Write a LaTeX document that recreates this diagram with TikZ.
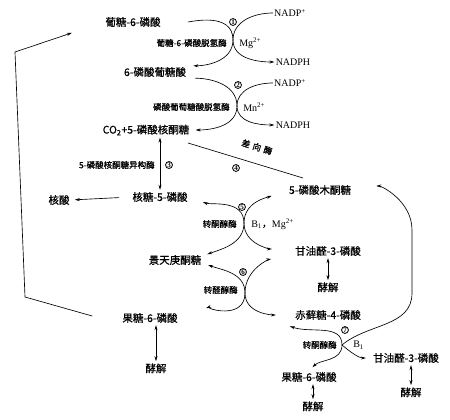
\documentclass[tikz,border=0pt]{standalone}
\usepackage{fontspec}
\setmainfont{Liberation Serif}
\newfontfamily\cjk[FakeBold=0.6]{Noto Sans CJK SC}
\usetikzlibrary{arrows.meta,positioning}

\begin{document}
\begin{tikzpicture}[x=1pt, y=1pt, >={Stealth[length=5pt,width=3pt]}, line width=0.65pt,
    met/.style={font=\cjk\fontsize{10.5}{12}\selectfont, inner sep=1pt},
    enz/.style={font=\cjk\fontsize{8.5}{10}\selectfont, inner sep=1pt},
    ion/.style={font=\fontsize{10}{12}\selectfont, inner sep=1pt},
    num/.style={circle, draw, inner sep=0.4pt, line width=0.8pt, font=\bfseries\fontsize{7}{7}\selectfont}]
  \useasboundingbox (0,0) rectangle (450,420);

  % metabolites
  \node[met] (g6p) at (133,398) {葡糖-6-磷酸};
  \node[met] (pg6) at (155,348) {6-磷酸葡糖酸};
  \node[met] (ru5p) at (146,290) {CO\textsubscript{2}+5-磷酸核酮糖};
  \node[met] (r5p) at (160,223) {核糖-5-磷酸};
  \node[met] (na) at (59,220) {核酸};
  \node[met] (x5p) at (320,230) {5-磷酸木酮糖};
  \node[met] (s7p) at (175,160) {景天庚酮糖};
  \node[met] (gap1) at (328,169) {甘油醛-3-磷酸};
  \node[met] (f6p1) at (150,102) {果糖-6-磷酸};
  \node[met] (e4p) at (328,105) {赤藓糖-4-磷酸};
  \node[met] (gap2) at (406,62) {甘油醛-3-磷酸};
  \node[met] (f6p2) at (309,43) {果糖-6-磷酸};
  \node[met] (jj1) [below=24pt of gap1] {酵解};
  \node[met] (jj2) [below=38pt of f6p1, xshift=6pt] {酵解};
  \node[met] (jj3) [below=22pt of gap2, xshift=5pt] {酵解};
  \node[met] (jj4) [below=17pt of f6p2, xshift=4pt] {酵解};

  \node[ion] (nadp1) at (290,407) {NADP\textsuperscript{+}};
  \node[ion] (nadph1) at (293,358) {NADPH};
  \node[ion] (nadp2) at (290,337) {NADP\textsuperscript{+}};
  \node[ion] (nadph2) at (293,295) {NADPH};

  % enzymes and cofactors
  \node[enz, anchor=east] (enz1) at (228,377) {葡糖-6-磷酸脱氢酶};
  \node[ion, anchor=west] (mg1) at (238,377) {Mg\textsuperscript{2+}};
  \node[num] (n1) at (233,398) {1};
  \node[enz, anchor=east] (enz2) at (231,313) {磷酸葡萄糖酸脱氢酶};
  \node[ion, anchor=west] (mn2) at (242,313) {Mn\textsuperscript{2+}};
  \node[num] (n2) at (238,335) {2};
  \node[enz, anchor=east] (enz3) at (156,255) {5-磷酸核酮糖异构酶};
  \node[num] (n3) at (169,255) {3};
  \node[enz, rotate=-17] (enz4) at (257,273) {差\hspace{3pt}向\hspace{3pt}酶};
  \node[num] (n4) at (236,252) {4};
  \node[enz, anchor=east] (enz5) at (238,196) {转酮醇酶};
  \node[ion, anchor=west] (bm5) at (250,196) {B\textsubscript{1}{\cjk ，}Mg\textsuperscript{2+}};
  \node[num] (n5) at (242,213) {5};
  \node[enz, anchor=east] (enz6) at (239,130) {转醛醇酶};
  \node[num] (n6) at (243,148) {6};
  \node[enz, anchor=east] (enz7) at (338,75) {转酮醇酶};
  \node[ion, anchor=west] (b7) at (352,75) {B\textsubscript{1}};
  \node[num] (n7) at (345,90) {7};

  % crossing points
  \coordinate (x1) at (233,380);
  \coordinate (x2) at (237,314);
  \coordinate (x5) at (244,197);
  \coordinate (x6) at (245,127);
  \coordinate (x7) at (342,75);
  \coordinate (ea) at (188,277);
  \coordinate (eb) at (303,242);
  \coordinate (r1) at (412,190);
  \coordinate (r2) at (412,127);
  \coordinate (lb) at (25,123);
  \coordinate (lt) at (15,368);

  % oxidative part
  \draw[->, shorten <=26pt, shorten >=6pt] (g6p.east) to[out=0,in=90] (x1) to[out=-90,in=0] (pg6.north east);
  \draw[->] (nadp1.west) to[out=180,in=90] (x1) to[out=-90,in=180] (nadph1.west);
  \draw[->, shorten <=8pt, shorten >=5pt] (pg6.south east) to[out=0,in=90] (x2) to[out=-90,in=0] (ru5p.east);
  \draw[->] (nadp2.west) to[out=180,in=90] (x2) to[out=-90,in=180] (nadph2.west);
  \draw[<->, shorten <=1pt, shorten >=1pt] (r5p.north) -- (r5p.north |- ru5p.south);
  \draw (ea) -- (eb);
  \draw[->, shorten <=12pt, shorten >=4pt] (r5p.west) -- (na.east);

  % non-oxidative part
  \draw[<->, shorten <=15pt, shorten >=5pt] (r5p.east) to[out=-20,in=90] (x5) to[out=-90,in=20] ([yshift=4pt]s7p.east);
  \draw[<->, shorten <=17pt, shorten >=22pt] (x5p.west) to[out=200,in=90] (x5) to[out=-90,in=180] ([yshift=2pt]gap1.west);
  \draw[<->, shorten <=6pt, shorten >=29pt] ([yshift=-3pt]s7p.east) to[out=-20,in=90] (x6) to[out=-90,in=20] (f6p1.east);
  \draw[<->, shorten <=23pt, shorten >=18pt] ([yshift=-4pt]gap1.west) to[out=190,in=90] (x6) to[out=-90,in=180] (e4p.west);
  \draw[<->, shorten >=5pt] ([xshift=-4pt,yshift=-5pt]e4p.south west) to[out=-20,in=90] (x7) to[out=-90,in=45] (f6p2.north);
  \draw[<->, shorten <=24pt, shorten >=6pt] ([yshift=4pt]x5p.east) to[out=0,in=90] (r1) -- (r2) to[out=-90,in=40] (x7) to[out=-40,in=180] (gap2.west);

  % glycolysis
  \draw[<->, shorten <=1pt, shorten >=1pt] (jj1.north) -- (jj1.north |- gap1.south);
  \draw[<->, shorten <=1pt, shorten >=1pt] (jj2.north) -- (jj2.north |- f6p1.south);
  \draw[<->, shorten <=1pt, shorten >=1pt] (jj3.north) -- (jj3.north |- gap2.south);
  \draw[<->, shorten <=1pt, shorten >=1pt] (jj4.north) -- (jj4.north |- f6p2.south);

  % back to glucose-6-phosphate
  \draw[->, shorten <=30pt, shorten >=34pt] (f6p1.south west) -- (lb) -- (lt) -- (g6p.west);
\end{tikzpicture}
\end{document}
